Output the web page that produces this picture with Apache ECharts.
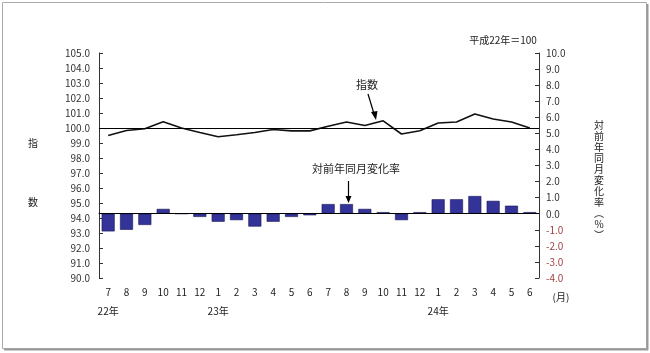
<!DOCTYPE html>
<html><head><meta charset="utf-8">
<script src="https://cdn.jsdelivr.net/npm/echarts@6/dist/echarts.min.js"></script>
<style>html,body{margin:0;padding:0;background:#fff}#c{width:650px;height:353px}</style>
</head><body><div id="c"></div>
<script>
const months = ['7','8','9','10','11','12','1','2','3','4','5','6','7','8','9','10','11','12','1','2','3','4','5','6'];
const years = ['22年','','','','','','23年','','','','','','','','','','','','24年','','','','',''];
const indexValues = [99.5,99.83,99.95,100.41,100.0,99.7,99.42,99.55,99.7,99.9,99.81,99.81,100.12,100.4,100.17,100.48,99.6,99.82,100.33,100.4,100.93,100.6,100.4,100.0];
const changeValues = [-1.1,-1.0,-0.7,0.3,0,-0.2,-0.5,-0.4,-0.8,-0.5,-0.2,-0.1,0.6,0.6,0.3,0.1,-0.4,0.1,0.9,0.9,1.1,0.8,0.5,0.1];

const FONT = '"Noto Sans CJK JP", "DejaVu Sans", sans-serif';
const chart = echarts.init(document.getElementById('c'));
chart.setOption({
  animation: false,
  backgroundColor: '#fff',
  grid: {left: 99, right: 111, top: 53, bottom: 75},
  xAxis: [{
    type: 'category', data: months, position: 'bottom',
    axisLine: {lineStyle: {color: '#333', width: 1}},
    axisTick: {inside: true, length: 3, lineStyle: {color: '#333'}},
    axisLabel: {color: '#222', fontSize: 10, fontFamily: FONT, margin: 9, interval: 0}
  }, {
    type: 'category', data: years, position: 'bottom', offset: 19,
    axisLine: {show: false}, axisTick: {show: false},
    axisLabel: {color: '#222', fontSize: 10, fontFamily: FONT, interval: 0, margin: 9}
  }],
  yAxis: [{
    type: 'value', min: 90, max: 105, interval: 1, position: 'left',
    axisLine: {show: true, lineStyle: {color: '#333', width: 1}},
    axisTick: {show: true, inside: true, length: 4, lineStyle: {color: '#333'}},
    splitLine: {show: false},
    axisLabel: {color: '#333', fontSize: 10, fontFamily: FONT, margin: 9, formatter: v => v.toFixed(1)}
  }, {
    type: 'value', min: -4, max: 10, interval: 1, position: 'right',
    axisLine: {show: true, lineStyle: {color: '#333', width: 1}},
    axisTick: {show: true, inside: true, length: 4, lineStyle: {color: '#333'}},
    splitLine: {show: false},
    axisLabel: {fontSize: 10, fontFamily: FONT, margin: 7,
      formatter: v => v.toFixed(1),
      color: v => (v < 0 ? '#a04040' : '#333')}
  }],
  series: [{
    type: 'bar', yAxisIndex: 1, data: changeValues, barWidth: 13,
    itemStyle: {color: '#333399', borderColor: '#1a1a55', borderWidth: 0.6},
    markLine: {silent: true, symbol: 'none', label: {show: false},
      lineStyle: {color: '#000', width: 1, type: 'solid'}, data: [{yAxis: 0}]}
  }, {
    type: 'line', yAxisIndex: 0, data: indexValues, symbol: 'none',
    lineStyle: {color: '#111', width: 1.6},
    markLine: {silent: true, symbol: 'none', label: {show: false},
      lineStyle: {color: '#000', width: 1, type: 'solid'}, data: [{yAxis: 100}]}
  }],
  graphic: [
    {type: 'rect', shape: {x: 2.5, y: 2.5, width: 644, height: 346}, style: {fill: 'none', stroke: '#aaa', lineWidth: 1}},
    {type: 'line', shape: {x1: 647.5, y1: 4, x2: 647.5, y2: 350}, style: {stroke: '#999', lineWidth: 2}},
    {type: 'line', shape: {x1: 4, y1: 349.5, x2: 648, y2: 349.5}, style: {stroke: '#999', lineWidth: 2}},
    {type: 'text', x: 503, y: 40, style: {text: '平成22年＝100', font: '10px ' + FONT, fill: '#222', align: 'center', verticalAlign: 'middle'}},
    {type: 'text', x: 33, y: 143, style: {text: '指', font: '10px ' + FONT, fill: '#222', align: 'center', verticalAlign: 'middle'}},
    {type: 'text', x: 33, y: 202, style: {text: '数', font: '10px ' + FONT, fill: '#222', align: 'center', verticalAlign: 'middle'}},
    {type: 'text', x: 599, y: 120, style: {text: '対\n前\n年\n同\n月\n変\n化\n率\n︵\n%\n︶', font: '10px ' + FONT, lineHeight: 11, fill: '#222', align: 'center', verticalAlign: 'top'}},
    {type: 'text', x: 561, y: 297, style: {text: '(月)', font: '10px ' + FONT, fill: '#222', align: 'center', verticalAlign: 'middle'}},
    {type: 'text', x: 367, y: 85, style: {text: '指数', font: '11px ' + FONT, fill: '#222', align: 'center', verticalAlign: 'middle'}},
    {type: 'line', shape: {x1: 368, y1: 94, x2: 375, y2: 117}, style: {stroke: '#000', lineWidth: 1.2}},
    {type: 'polygon', shape: {points: [[376, 120], [371, 112], [377.5, 111]]}, style: {fill: '#000'}},
    {type: 'text', x: 356, y: 169, style: {text: '対前年同月変化率', font: '11px ' + FONT, fill: '#222', align: 'center', verticalAlign: 'middle'}},
    {type: 'line', shape: {x1: 348.5, y1: 181, x2: 348.5, y2: 198}, style: {stroke: '#000', lineWidth: 1.2}},
    {type: 'polygon', shape: {points: [[348.5, 203], [345.5, 196], [351.5, 196]]}, style: {fill: '#000'}}
  ]
});
</script></body></html>
